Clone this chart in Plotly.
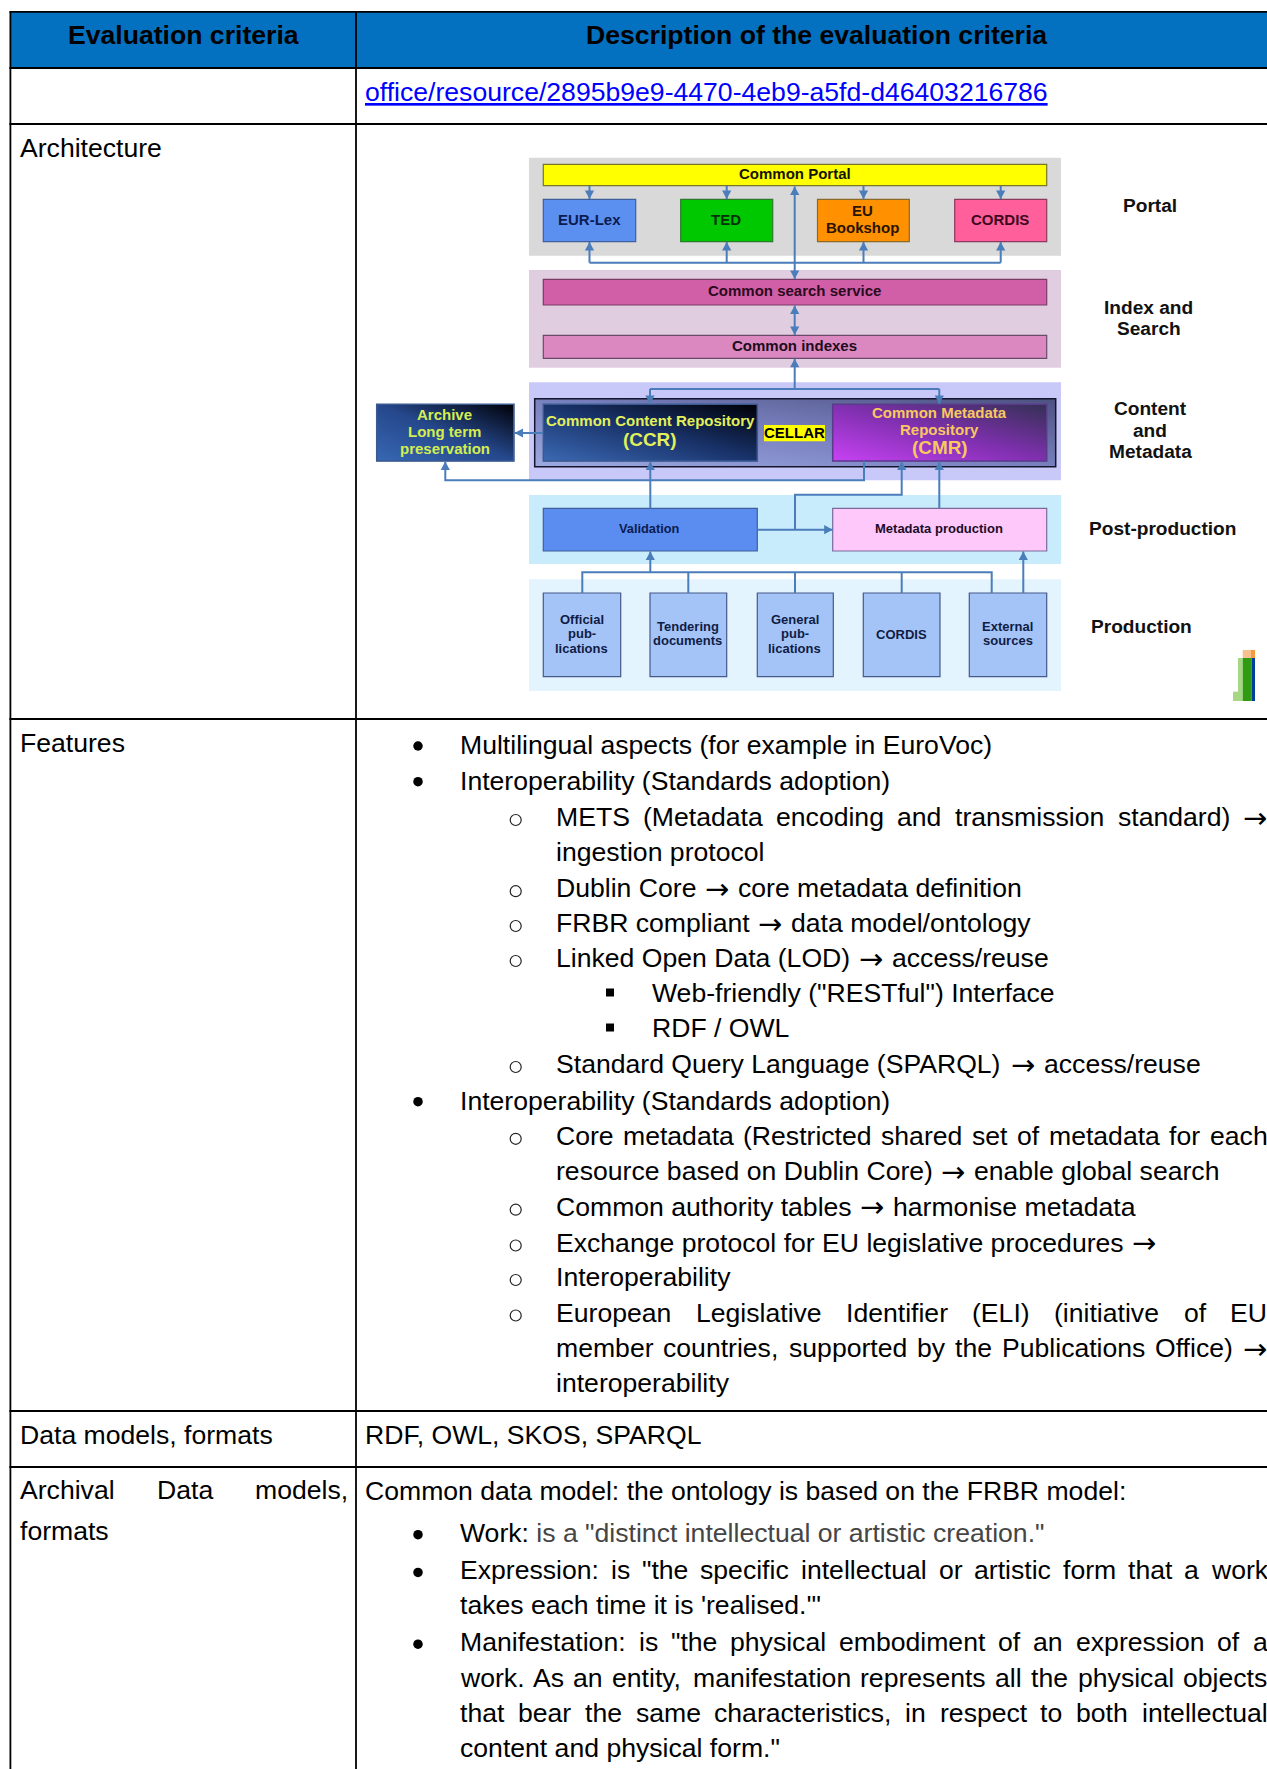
import numpy as np
import plotly.graph_objects as go

# ---------- text content ----------
HEADERS = ["Evaluation criteria", "Description of the evaluation criteria"]
LINK_TEXT = "office/resource/2895b9e9-4470-4eb9-a5fd-d46403216786"
ROW_LABELS = ["Architecture", "Features", "Data models, formats", "formats"]
ARCHIVAL_LABEL = "Archival Data models,"
DATA_MODELS_TEXT = "RDF, OWL, SKOS, SPARQL"

FEATURES_TEXT = [
    "Multilingual aspects (for example in EuroVoc)",
    "Interoperability (Standards adoption)",
    "METS (Metadata encoding and transmission standard) →",
    "ingestion protocol",
    "Dublin Core → core metadata definition",
    "FRBR compliant → data model/ontology",
    "Linked Open Data (LOD) → access/reuse",
    'Web-friendly ("RESTful") Interface',
    "RDF / OWL",
    "Standard Query Language (SPARQL) → access/reuse",
    "Interoperability (Standards adoption)",
    "Core metadata (Restricted shared set of metadata for each",
    "resource based on Dublin Core) → enable global search",
    "Common authority tables → harmonise metadata",
    "Exchange protocol for EU legislative procedures →",
    "Interoperability",
    "European Legislative Identifier (ELI) (initiative of EU",
    "member countries, supported by the Publications Office) →",
    "interoperability",
]
FEATURES_LEVEL = [1, 1, 2, 2, 2, 2, 2, 3, 3, 2, 1, 2, 2, 2, 2, 2, 2, 2, 2]
FEATURES_BULLET = [1, 1, 1, 0, 1, 1, 1, 1, 1, 1, 1, 1, 0, 1, 1, 1, 1, 0, 0]
FEATURES_JUSTIFIED = [0, 0, 1, 0, 0, 0, 0, 0, 0, 0, 0, 1, 0, 0, 0, 0, 1, 1, 0]
FEATURES_BASELINE = [754.3, 790, 826, 861, 897.2, 932, 967, 1001.5, 1036.5, 1073,
                     1110, 1144.8, 1180, 1215.7, 1251.5, 1286, 1321.5, 1357, 1391.5]

MODEL_INTRO = "Common data model: the ontology is based on the FRBR model:"
MODEL_TEXT = [
    'is a "distinct intellectual or artistic creation."',
    'Expression: is "the specific intellectual or artistic form that a work',
    "takes each time it is 'realised.'\"",
    'Manifestation: is "the physical embodiment of an expression of a',
    "work. As an entity, manifestation represents all the physical objects",
    "that bear the same characteristics, in respect to both intellectual",
    'content and physical form."',
]
MODEL_BULLET = [1, 1, 0, 1, 0, 0, 0]
MODEL_JUSTIFIED = [0, 1, 0, 1, 1, 1, 0]
MODEL_BASELINE = [1541.5, 1579.2, 1614.2, 1651, 1686.7, 1722, 1756.5]

# ---------- diagram content ----------
BOX_NAMES = ["Common Portal", "EUR-Lex", "TED", "EU\nBookshop", "CORDIS",
             "Common search service", "Common indexes", "Validation", "Metadata production",
             "Official\npub-\nlications", "Tendering\ndocuments", "General\npub-\nlications",
             "CORDIS", "External\nsources"]
BOX_LEFT = [543.3, 543.3, 680.7, 817.5, 954.7, 543.3, 543.3, 543.3, 832.7, 543.3, 650, 757.3, 863.3, 969.3]
BOX_RIGHT = [1046.7, 635.7, 772.7, 909.3, 1046.7, 1046.7, 1046.7, 757.3, 1046.7, 620.7, 726.7, 833.3, 940, 1046.7]
BOX_TOP = [164.3, 199.3, 199.3, 199.3, 199.3, 279.3, 335.3, 508.3, 508.3, 593, 593, 593, 593, 593]
BOX_BOTTOM = [185.7, 241.7, 241.7, 241.7, 241.7, 305, 358.3, 551, 551, 676.7, 676.7, 676.7, 676.7, 676.7]
BOX_FILL = ["#ffff00", "#5b8ff0", "#00c800", "#ff9000", "#ff5f9a", "#d15fa8", "#da88bf", "#5b8cf0", "#ffc8fa",
            "#a4c4f8", "#a4c4f8", "#a4c4f8", "#a4c4f8", "#a4c4f8"]
BOX_EDGE = ["#77772c", "#3f5f9a", "#2c7a2c", "#8a6a2a", "#8a3a5f", "#7a3a66", "#6a4a6a", "#3f5f9a", "#7a6a9a",
            "#45598a", "#45598a", "#45598a", "#45598a", "#45598a"]
BOX_INK = ["#141400", "#0c1c50", "#06300c", "#2a1400", "#40081f", "#2c0a20", "#200c1c", "#0c1c50", "#1a0c28",
           "#101c44", "#101c44", "#101c44", "#101c44", "#101c44"]
BOX_SIZE = [15, 15, 15, 15, 15, 15, 15, 12.8, 13, 13, 13, 13, 13, 13]
BOX_TEXT_DY = [-2, -1.2, -1.2, -1.4, -1.2, -1.2, -1, -1, -1, -1, -1, -1, -0.8, -1]

BAND_TOP = [157.7, 270, 382.3, 495, 579.3]
BAND_BOTTOM = [255.7, 367.7, 480.3, 564, 691]
BAND_FILL = ["#d9d9d9", "#e0cee0", "#c9c9f9", "#c9ecfc", "#e4f4fe"]
BAND_LEFT, BAND_RIGHT = 529, 1061

SIDE_LABELS = ["Portal", "Index and", "Search", "Content", "and", "Metadata", "Post-production", "Production"]
SIDE_X = [1150.2, 1148.5, 1148.5, 1150, 1150, 1150, 1162.7, 1141.3]
SIDE_Y = [205.7, 307.7, 328.3, 408, 430.2, 451, 528, 626]

GRAD_NAMES = ["container", "archive", "ccr", "cmr"]
GRAD_BOX = {"container": (534.7, 398.7, 1055.7, 466.7), "archive": (376.7, 404.3, 514, 461),
            "ccr": (543.3, 404.3, 757.3, 461), "cmr": (832.7, 404.3, 1046.7, 461)}
GRAD_STOPS = {"container": [(158, 170, 226), (120, 128, 190), (78, 82, 130)],
              "archive": [(56, 104, 180), (38, 72, 140), (0, 0, 6)],
              "ccr": [(60, 106, 180), (26, 52, 108), (0, 0, 6)],
              "cmr": [(200, 66, 245), (128, 48, 176), (52, 48, 84)]}
GRAD_EDGE = {"container": "#14142c", "archive": "#3a5a90", "ccr": "#3a5a90", "cmr": "#5a3a8a"}

GRAD_TEXT = ["Archive", "Long term", "preservation", "Common Content Repository", "(CCR)",
             "Common Metadata", "Repository", "(CMR)"]
GRAD_TEXT_X = [444.6, 444.6, 444.6, 650.3, 650.3, 939.5, 939.5, 939.5]
GRAD_TEXT_Y = [414.5, 431.5, 448, 420.4, 439.8, 412.5, 429.5, 447.3]
GRAD_TEXT_SIZE = [15, 15, 15, 15, 18.9, 15, 15, 18.9]
GRAD_TEXT_INK = ["#d4ee50", "#d4ee50", "#d4ee50", "#e2f05c", "#e2f05c", "#f8c860", "#f8c860", "#f8c860"]

LOGO_RECTS = [(1233, 691.7, 1238, 701, "#a6d785"), (1238, 658, 1242.7, 701, "#a6d785"),
              (1242.7, 658, 1251.7, 701, "#2f9a12"), (1251.7, 658, 1255, 701, "#003f9a"),
              (1242.7, 650, 1250.7, 658, "#f8c090"), (1250.7, 650, 1255, 658, "#f49a40")]

# connector routes: (points, arrow at start, arrow at end)
ROUTES = [
    ([(589.5, 186), (589.5, 199)], 0, 1), ([(726.7, 186), (726.7, 199)], 0, 1),
    ([(863.5, 186), (863.5, 199)], 0, 1), ([(1000.7, 186), (1000.7, 199)], 0, 1),
    ([(589.5, 262.7), (589.5, 242)], 0, 1), ([(726.7, 262.7), (726.7, 242)], 0, 1),
    ([(863.5, 262.7), (863.5, 242)], 0, 1), ([(1000.7, 262.7), (1000.7, 242)], 0, 1),
    ([(589.5, 262.7), (1000.7, 262.7)], 0, 0),
    ([(794.7, 186.5), (794.7, 279)], 1, 1),
    ([(794.7, 305.5), (794.7, 335)], 1, 1),
    ([(794.7, 389), (794.7, 358.7)], 0, 1),
    ([(650, 389), (939.3, 389)], 0, 0),
    ([(650, 389), (650, 404)], 0, 1), ([(939.3, 389), (939.3, 404)], 0, 1),
    ([(543, 433), (514.5, 433)], 0, 1),
    ([(864, 461), (864, 480.3), (445.3, 480.3), (445.3, 461.5)], 0, 1),
    ([(650.3, 508.3), (650.3, 461.5)], 0, 1),
    ([(757.3, 529.7), (832.7, 529.7)], 0, 1),
    ([(795, 529.7), (795, 494.7), (901.7, 494.7), (901.7, 461.5)], 0, 1),
    ([(939.3, 508.3), (939.3, 461.5)], 0, 1),
    ([(582.3, 593), (582.3, 572.3), (991.7, 572.3), (991.7, 593)], 0, 0),
    ([(688.3, 572.3), (688.3, 593)], 0, 0), ([(795, 572.3), (795, 593)], 0, 0),
    ([(901.7, 572.3), (901.7, 593)], 0, 0),
    ([(650.3, 572.3), (650.3, 551.5)], 0, 1),
    ([(1023.3, 593), (1023.3, 551.5)], 0, 1),
]

# ---------- page geometry ----------
W, H = 1267, 1769
FONT = "Liberation Sans"
SIZE = 26.6
LEFT, COL, TOP = 10.4, 356, 11.8
ROW_Y = [68, 124, 719, 1411, 1467]
LEVEL_X = {1: 459, 2: 555, 3: 651}
BULLET_X = {1: 418, 2: 515.7, 3: 610}
BULLET_UP = {1: 8.3, 2: 6, 3: 9}
RIGHT_EDGE = 1266.3
ARROW_COLOR = "#4a7dba"
ARROW_FONT = "DejaVu Sans"
ARROW_SIZE = 29
TEXT_DROP = 0.4

ADV = {' ': 278, '!': 278, '"': 355, "'": 191, '(': 333, ')': 333, ',': 278, '-': 333, '.': 278, '/': 278, ':': 278,
       '→': 900, 'A': 667, 'B': 667, 'C': 722, 'D': 722, 'E': 667, 'F': 611, 'G': 778, 'H': 722, 'I': 278, 'J': 500,
       'K': 667, 'L': 556, 'M': 833, 'N': 722, 'O': 778, 'P': 667, 'Q': 778, 'R': 722, 'S': 667, 'T': 611, 'U': 722,
       'V': 667, 'W': 944, 'X': 667, 'Y': 667, 'Z': 611, 'a': 556, 'b': 556, 'c': 500, 'd': 556, 'e': 556, 'f': 278,
       'g': 556, 'h': 556, 'i': 222, 'j': 222, 'k': 500, 'l': 222, 'm': 833, 'n': 556, 'o': 556, 'p': 556, 'q': 556,
       'r': 333, 's': 500, 't': 278, 'u': 556, 'v': 500, 'w': 722, 'x': 500, 'y': 500, 'z': 500}


def tw(s, size=SIZE):
    return sum(ADV.get(c, 556) for c in s) * size / 1000


ann = []
shapes = []


def put(x, base, text, color="#000", bold=False, size=SIZE, anchor="left"):
    ann.append(dict(x=x, y=base + TEXT_DROP - 0.3465 * size, text=text, showarrow=False, xanchor=anchor,
                    yanchor="middle", borderpad=0,
                    font=dict(family=FONT, size=size, color=color, weight=700 if bold else 400)))


def put_arrow(x, base, color="#000"):
    ann.append(dict(x=x, y=base + TEXT_DROP + 1.2 - 0.3465 * ARROW_SIZE, text="→", showarrow=False, xanchor="left",
                    yanchor="middle", borderpad=0, font=dict(family=ARROW_FONT, size=ARROW_SIZE, color=color)))


def put_mid(x, y, text, color, size, bold=True):
    ann.append(dict(x=x, y=y, text=text, showarrow=False, xanchor="center", yanchor="middle", borderpad=0,
                    font=dict(family=FONT, size=size, color=color, weight=700 if bold else 400)))


def put_line(x0, base, text, justified, right=RIGHT_EDGE, color="#000"):
    words = text.split(" ")
    if justified:
        gap = (right - x0 - sum(tw(w) for w in words)) / (len(words) - 1)
        x = x0
        for w in words:
            if w == "→":
                put_arrow(x, base, color)
            else:
                put(x, base, w, color)
            x += tw(w) + gap
    else:
        parts = text.split("→")
        x = x0
        for i, p in enumerate(parts):
            p = p.strip()
            if p:
                put(x, base, p, color)
                x += tw(p)
            if i < len(parts) - 1:
                x += tw(" ") if p else 0
                put_arrow(x + 1, base, color)
                x += SIZE + tw(" ")


def rect(x0, y0, x1, y1, fill, edge=None, lw=1.2, layer="below"):
    shapes.append(dict(type="rect", x0=x0, y0=y0, x1=x1, y1=y1, fillcolor=fill, layer=layer,
                       line=dict(color=edge or fill, width=lw if edge else 0)))


def head(tip, frm):
    ux, uy = tip[0] - frm[0], tip[1] - frm[1]
    n = (ux * ux + uy * uy) ** 0.5
    ux, uy = ux / n, uy / n
    bx, by = tip[0] - ux * 8.5, tip[1] - uy * 8.5
    px, py = -uy * 4.6, ux * 4.6
    shapes.append(dict(type="path", layer="above", fillcolor=ARROW_COLOR, line=dict(width=0),
                       path=f"M{tip[0]},{tip[1]} L{bx + px},{by + py} L{bx - px},{by - py} Z"))


# ---------- table chrome ----------
rect(LEFT, TOP, W + 5, ROW_Y[0], "#0470c0", layer="below")
for y in [TOP] + ROW_Y:
    shapes.append(dict(type="line", x0=LEFT - 1, x1=W + 5, y0=y, y1=y, layer="above", line=dict(color="#000", width=1.8)))
for x in (LEFT, COL):
    shapes.append(dict(type="line", x0=x, x1=x, y0=TOP, y1=H + 5, layer="above", line=dict(color="#000", width=1.8)))

put_mid(183.5, 35.0, HEADERS[0], "#000", 26.6)
put_mid(816, 35.0, HEADERS[1], "#000", 26.6)
put(363.9, 100.5, f"<u>{LINK_TEXT}</u>", "#0000ff")
put(18.6, 156.5, ROW_LABELS[0])
put(18.6, 751.5, ROW_LABELS[1])
put(18.6, 1443.8, ROW_LABELS[2])
put(363.9, 1443.8, DATA_MODELS_TEXT)
put_line(18.6, 1499.3, ARCHIVAL_LABEL, True, right=347.5)
put(18.6, 1539.8, ROW_LABELS[3])
put(363.9, 1500, MODEL_INTRO)

# ---------- bullets ----------
bul = {1: ([], []), 2: ([], []), 3: ([], [])}
for lvl, b, base in zip(FEATURES_LEVEL, FEATURES_BULLET, FEATURES_BASELINE):
    if b:
        bul[lvl][0].append(BULLET_X[lvl])
        bul[lvl][1].append(base - BULLET_UP[lvl])
for b, base in zip(MODEL_BULLET, MODEL_BASELINE):
    if b:
        bul[1][0].append(BULLET_X[1])
        bul[1][1].append(base - BULLET_UP[1] + 1.5)

for text, lvl, j, base in zip(FEATURES_TEXT, FEATURES_LEVEL, FEATURES_JUSTIFIED, FEATURES_BASELINE):
    put_line(LEVEL_X[lvl], base, text, bool(j))
for i, (text, j, base) in enumerate(zip(MODEL_TEXT, MODEL_JUSTIFIED, MODEL_BASELINE)):
    if i == 0:
        put(459, base, f'Work: <span style="color:#454545">{text}</span>')
    else:
        put_line(459, base, text, bool(j))

# ---------- diagram ----------
for t, b, f in zip(BAND_TOP, BAND_BOTTOM, BAND_FILL):
    rect(BAND_LEFT, t, BAND_RIGHT, b, f)
for x0, x1, y0, y1, fill, edge in zip(BOX_LEFT, BOX_RIGHT, BOX_TOP, BOX_BOTTOM, BOX_FILL, BOX_EDGE):
    rect(x0, y0, x1, y1, fill, edge)

for name, x0, x1, y0, y1, ink, size, dy in zip(BOX_NAMES, BOX_LEFT, BOX_RIGHT, BOX_TOP, BOX_BOTTOM, BOX_INK,
                                              BOX_SIZE, BOX_TEXT_DY):
    lines = name.split("\n")
    cx, cy = (x0 + x1) / 2, (y0 + y1) / 2
    step = 16.8 if y1 - y0 < 60 else (14.5 if len(lines) == 3 else 14.2)
    for k, ln in enumerate(lines):
        yy = cy + (k - (len(lines) - 1) / 2) * step
        put_mid(cx - 0.5, yy + dy, ln, ink, size)

rect(764, 425, 825, 441.3, "#ffff00", layer="above")
put_mid(794.7, 432.4, "CELLAR", "#000", 15)

for s, x, y in zip(SIDE_LABELS, SIDE_X, SIDE_Y):
    put_mid(x, y, s, "#111", 19.1)
for s, x, y, sz, ink in zip(GRAD_TEXT, GRAD_TEXT_X, GRAD_TEXT_Y, GRAD_TEXT_SIZE, GRAD_TEXT_INK):
    put_mid(x, y, s, ink, sz)

traces = []
for nm in GRAD_NAMES:
    x0, y0, x1, y1 = GRAD_BOX[nm]
    w, h = int(round(x1 - x0)), int(round(y1 - y0))
    u = (np.arange(w) + .5) / w
    v = (np.arange(h) + .5) / h
    t = (u[None, :] + (1 - v[:, None])) / 2
    a, b, c = [np.array(s, float) for s in GRAD_STOPS[nm]]
    tt = t[..., None]
    img = np.where(tt < .5, a + (b - a) * tt * 2, b + (c - b) * (tt - .5) * 2).astype(int)
    traces.append(go.Image(z=img.tolist(), x0=x0 + .5, y0=y0 + .5, dx=(x1 - x0) / w, dy=(y1 - y0) / h, hoverinfo="skip"))
    rect(x0, y0, x1, y1, "rgba(0,0,0,0)", GRAD_EDGE[nm], lw=1.5, layer="above")

for pts, s, e in ROUTES:
    path = "M" + " L".join(f"{x},{y}" for x, y in pts)
    shapes.append(dict(type="path", path=path, layer="above", line=dict(color=ARROW_COLOR, width=2)))
    if e:
        head(pts[-1], pts[-2])
    if s:
        head(pts[0], pts[1])

for x0, y0, x1, y1, c in LOGO_RECTS:
    rect(x0, y0, x1, y1, c)

traces.append(go.Scatter(x=bul[1][0], y=bul[1][1], mode="markers", hoverinfo="skip",
                         marker=dict(symbol="circle", size=9.5, color="#000", line=dict(width=0))))
traces.append(go.Scatter(x=bul[2][0], y=bul[2][1], mode="markers", hoverinfo="skip",
                         marker=dict(symbol="circle-open", size=11, color="#222", line=dict(width=1.2, color="#222"))))
traces.append(go.Scatter(x=bul[3][0], y=bul[3][1], mode="markers", hoverinfo="skip",
                         marker=dict(symbol="square", size=8, color="#000", line=dict(width=0))))

fig = go.Figure(traces)
fig.update_layout(width=W, height=H, margin=dict(l=0, r=0, t=0, b=0), showlegend=False, hovermode=False,
                  paper_bgcolor="#fff", plot_bgcolor="#fff", shapes=shapes, annotations=ann,
                  xaxis=dict(range=[0, W], visible=False, fixedrange=True, constrain="domain"),
                  yaxis=dict(range=[H, 0], visible=False, fixedrange=True, constrain="domain"))
fig.write_html("out.html", config=dict(displayModeBar=False),
               post_script="document.body.style.margin='0';document.documentElement.style.overflow='hidden';")
